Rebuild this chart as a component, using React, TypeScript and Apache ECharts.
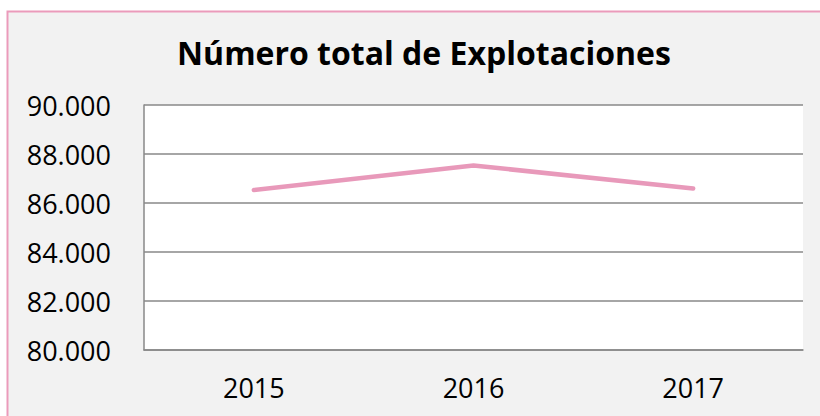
import React, { useEffect, useRef } from "react";
import * as echarts from "echarts";

const title = "Número total de Explotaciones";
const categories = ["2015", "2016", "2017"];
const explotaciones = [86530, 87530, 86590];
const yMin = 80000;
const yMax = 90000;
const yStep = 2000;

const fmt = (v: number) => {
  const s = Math.round(v).toString();
  return s.replace(/\B(?=(\d{3})+(?!\d))/g, ".");
};

export default function App() {
  const ref = useRef<HTMLDivElement>(null);
  useEffect(() => {
    if (!ref.current) return;
    const chart = echarts.init(ref.current, null, { renderer: "svg" });
    chart.setOption({
      animation: false,
      backgroundColor: "#ffffff",
      graphic: [
        {
          type: "rect",
          z: -10,
          silent: true,
          shape: { x: 7.5, y: 11.5, width: 830, height: 430 },
          style: { fill: "#f2f2f2", stroke: "#eb9bbb", lineWidth: 2 },
        },
      ],
      title: {
        text: title,
        left: 419,
        textAlign: "center",
        top: 31,
        textStyle: {
          fontFamily: "'Open Sans', sans-serif",
          fontWeight: "bold",
          fontSize: 32,
          color: "#000000",
        },
      },
      grid: {
        left: 144,
        right: 17,
        top: 105,
        bottom: 66,
        show: true,
        backgroundColor: "#ffffff",
        borderWidth: 0,
      },
      xAxis: {
        type: "category",
        data: categories,
        boundaryGap: true,
        axisLine: { show: true, lineStyle: { color: "#888888", width: 1.5 } },
        axisTick: { show: false },
        axisLabel: {
          margin: 24,
          fontFamily: "'Open Sans', sans-serif",
          fontSize: 27,
          color: "#000000",
        },
      },
      yAxis: {
        type: "value",
        min: yMin,
        max: yMax,
        interval: yStep,
        axisLine: { show: true, lineStyle: { color: "#888888", width: 1.5 } },
        axisTick: { show: false },
        splitLine: { show: true, lineStyle: { color: "#888888", width: 1.5 } },
        axisLabel: {
          margin: 33,
          fontFamily: "'Open Sans', sans-serif",
          fontSize: 27,
          color: "#000000",
          formatter: (v: number) => fmt(v),
        },
      },
      series: [
        {
          type: "line",
          data: explotaciones,
          symbol: "none",
          lineStyle: { color: "#e899ba", width: 4.5, cap: "round", join: "round" },
        },
      ],
    });
    return () => chart.dispose();
  }, []);
  return (
    <div
      ref={ref}
      style={{ position: "fixed", left: 0, top: 0, width: 820, height: 416 }}
    />
  );
}
